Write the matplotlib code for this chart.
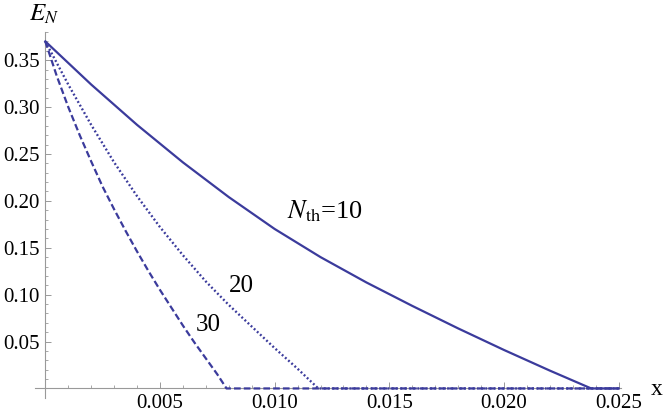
import matplotlib

matplotlib.use("Agg")
import matplotlib.pyplot as plt

# Values
X_10 = [0.0, 0.002, 0.004, 0.006, 0.008, 0.010, 0.012, 0.014, 0.016, 0.018,
        0.020, 0.022, 0.0238, 0.025]
Y_10 = [0.370, 0.324, 0.281, 0.241, 0.204, 0.170, 0.140, 0.113, 0.088, 0.064,
        0.041, 0.019, 0.0, 0.0]

X_20 = [0.0, 0.001, 0.002, 0.003, 0.004, 0.005, 0.006, 0.007, 0.008, 0.009,
        0.010, 0.011, 0.0119, 0.025]
Y_20 = [0.370, 0.324, 0.281, 0.241, 0.205, 0.172, 0.142, 0.114, 0.089, 0.066,
        0.043, 0.021, 0.0, 0.0]

X_30 = [0.0, 0.0005, 0.001, 0.0015, 0.002, 0.0025, 0.003, 0.0035, 0.004, 0.0045,
        0.005, 0.0055, 0.006, 0.0065, 0.007, 0.0075, 0.0079, 0.025]
Y_30 = [0.370, 0.333, 0.300, 0.270, 0.242, 0.215, 0.191, 0.168, 0.146, 0.125,
        0.105, 0.086, 0.067, 0.049, 0.032, 0.015, 0.0, 0.0]

X_MAJOR = [0.005, 0.010, 0.015, 0.020, 0.025]
X_LABELS = ["0.005", "0.010", "0.015", "0.020", "0.025"]
Y_MAJOR = [0.05, 0.10, 0.15, 0.20, 0.25, 0.30, 0.35]
Y_LABELS = ["0.05", "0.10", "0.15", "0.20", "0.25", "0.30", "0.35"]

LINE = "#3b3b9c"
AXIS = "#999999"

plt.rcParams["font.family"] = ["Liberation Serif", "DejaVu Serif"]
plt.rcParams["mathtext.fontset"] = "stix"

fig = plt.figure(figsize=(6.64, 4.15), dpi=100)
ax = fig.add_axes([35 / 664, 1 - 398.3 / 415, 586 / 664, 366.3 / 415])

ax.plot(X_10, Y_10, color=LINE, lw=1.6, solid_joinstyle="round", zorder=3, clip_on=False)
ax.plot(X_20, Y_20, color=LINE, lw=1.7, linestyle=(0, (0.8, 1.0)), zorder=3, clip_on=False)
ax.plot(X_30, Y_30, color=LINE, lw=1.6, linestyle=(0, (3.0, 1.4)), zorder=3, clip_on=False)

ax.set_xlim(-0.00045, 0.0251)
ax.set_ylim(-0.0105, 0.380)

for side in ("top", "right"):
    ax.spines[side].set_visible(False)
ax.spines["left"].set_position(("data", 0))
ax.spines["bottom"].set_position(("data", 0))
for side in ("left", "bottom"):
    ax.spines[side].set_color(AXIS)
    ax.spines[side].set_linewidth(0.8)

ax.set_xticks(X_MAJOR)
ax.set_xticklabels(X_LABELS)
ax.set_yticks(Y_MAJOR)
ax.set_yticklabels(Y_LABELS)
x_minor = [i / 1000 for i in range(1, 26) if i % 5]
y_minor = [i / 100 for i in range(1, 39) if i % 5]
ax.set_xticks(x_minor, minor=True)
ax.set_yticks(y_minor, minor=True)
ax.tick_params(which="major", direction="in", length=4.5, width=0.7, color=AXIS,
               labelsize=15, labelcolor="black", pad=4)
ax.tick_params(which="minor", direction="in", length=2.5, width=0.6, color=AXIS)

ax.text(0.0122, 0.189, r"$N_{\rm th}$=10", fontsize=19, ha="center", va="center")
ax.text(0.00856, 0.109, "20", fontsize=18, ha="center", va="center")
ax.text(0.0071, 0.0677, "30", fontsize=18, ha="center", va="center")

fig.text(44 / 664, 1 - 14 / 415, r"$E_N$", fontsize=18, ha="center", va="center")
fig.text(657 / 664, 1 - 389 / 415, "x", fontsize=17, ha="center", va="center")

fig.savefig("out.png", dpi=100, facecolor="white")
